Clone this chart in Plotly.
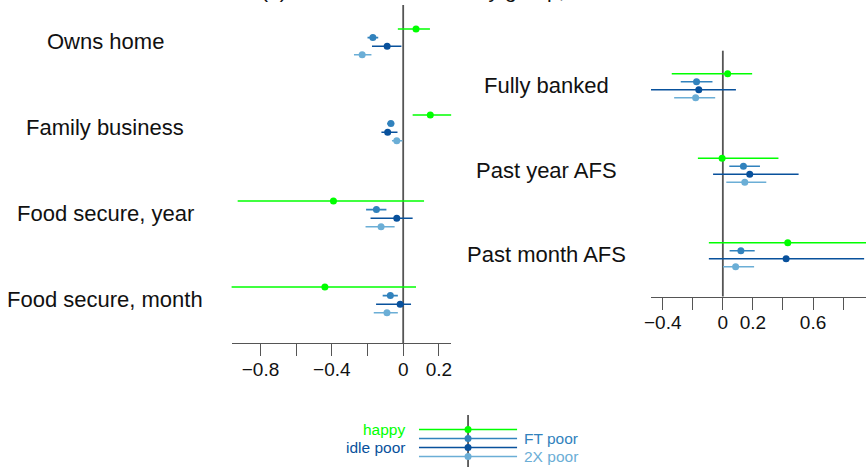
import plotly.graph_objects as go

W, H = 867, 468
FONT = "Liberation Sans, Arial, sans-serif"

# group order (top to bottom inside each outcome block)
groups = ["happy", "FT poor", "idle poor", "2X poor"]
colors = ["#00ff00", "#3182bd", "#08519c", "#6baed6"]

# ---- left panel: outcomes ----
left_rows = ["Owns home", "Family business", "Food secure, year", "Food secure, month"]
happy_est_l = [0.072, 0.152, -0.391, -0.439]
happy_lo_l = [-0.030, 0.053, -0.928, -0.970]
happy_hi_l = [0.150, 0.274, 0.117, 0.072]
ft_est_l = [-0.170, -0.069, -0.150, -0.072]
ft_lo_l = [-0.200, -0.090, -0.208, -0.115]
ft_hi_l = [-0.140, -0.050, -0.094, -0.030]
idle_est_l = [-0.090, -0.087, -0.036, -0.017]
idle_lo_l = [-0.175, -0.122, -0.183, -0.152]
idle_hi_l = [-0.010, -0.032, 0.053, 0.044]
twox_est_l = [-0.230, -0.036, -0.124, -0.091]
twox_lo_l = [-0.276, -0.063, -0.211, -0.165]
twox_hi_l = [-0.178, -0.004, -0.048, -0.030]

# ---- right panel: banking outcomes ----
right_rows = ["Fully banked", "Past year AFS", "Past month AFS"]
happy_est_r = [0.032, -0.005, 0.432]
happy_lo_r = [-0.340, -0.166, -0.093]
happy_hi_r = [0.195, 0.370, 0.960]
ft_est_r = [-0.175, 0.137, 0.120]
ft_lo_r = [-0.280, 0.043, 0.045]
ft_hi_r = [-0.069, 0.247, 0.212]
idle_est_r = [-0.160, 0.179, 0.421]
idle_lo_r = [-0.490, -0.065, -0.093]
idle_hi_r = [0.087, 0.504, 0.940]
twox_est_r = [-0.181, 0.146, 0.085]
twox_lo_r = [-0.324, 0.023, 0.001]
twox_hi_r = [-0.051, 0.289, 0.208]

left_ticks = [-0.8, -0.6, -0.4, -0.2, 0.0, 0.2]
left_ticktext = ["\u22120.8", "", "\u22120.4", "", "0", "0.2"]
right_ticks = [-0.4, -0.2, 0.0, 0.2, 0.4, 0.6, 0.8]
right_ticktext = ["\u22120.4", "", "0", "0.2", "", "0.6", ""]

left_series = [
    (happy_est_l, happy_lo_l, happy_hi_l),
    (ft_est_l, ft_lo_l, ft_hi_l),
    (idle_est_l, idle_lo_l, idle_hi_l),
    (twox_est_l, twox_lo_l, twox_hi_l),
]
right_series = [
    (happy_est_r, happy_lo_r, happy_hi_r),
    (ft_est_r, ft_lo_r, ft_hi_r),
    (idle_est_r, idle_lo_r, idle_hi_r),
    (twox_est_r, twox_lo_r, twox_hi_r),
]

LEFT_STEP = 0.1     # vertical offset between groups within an outcome block
RIGHT_STEP = 0.095

fig = go.Figure()


def add_panel(series, offset, xa, ya):
    for k, (est, lo, hi) in enumerate(series):
        ys = [-(i + k * offset) for i in range(len(est))]
        fig.add_trace(go.Scatter(
            x=est, y=ys, mode="markers", xaxis=xa, yaxis=ya,
            marker=dict(size=7, color=colors[k]),
            error_x=dict(type="data", symmetric=False,
                         array=[h - e for e, h in zip(est, hi)],
                         arrayminus=[e - l for e, l in zip(est, lo)],
                         color=colors[k], thickness=1.6, width=0),
            showlegend=False, hoverinfo="skip", cliponaxis=True,
        ))


add_panel(left_series, LEFT_STEP, "x", "y")
add_panel(right_series, RIGHT_STEP, "x2", "y2")

# key: each group drawn as a point with a unit interval around zero
for k, g in enumerate(groups):
    fig.add_trace(go.Scatter(
        x=[0], y=[-k], mode="markers", xaxis="x3", yaxis="y3",
        marker=dict(size=7, color=colors[k]),
        error_x=dict(type="data", array=[1], color=colors[k], thickness=1.6, width=0),
        showlegend=False, hoverinfo="skip",
    ))

axis_common = dict(showgrid=False, zeroline=False, showline=True, linecolor="#555555",
                   linewidth=1.3, ticks="outside", ticklen=12, tickcolor="#555555",
                   tickwidth=1.3, tickfont=dict(family=FONT, size=19, color="#111111"),
                   ticklabelstandoff=-3, fixedrange=True)
hidden_y = dict(visible=False, showgrid=False, zeroline=False, fixedrange=True)

fig.update_layout(
    width=W, height=H,
    margin=dict(l=0, r=0, t=0, b=0),
    paper_bgcolor="white", plot_bgcolor="white",
    xaxis=dict(domain=[226.7 / W, 448.3 / W], range=[-0.962, 0.269],
               tickvals=left_ticks, ticktext=left_ticktext, anchor="y", **axis_common),
    yaxis=dict(domain=[1 - 343 / H, 1 - 5 / H], range=[-3.651, 0.279], anchor="x", **hidden_y),
    xaxis2=dict(domain=[650 / W, 1.0], range=[-0.478, 0.9525],
                tickvals=right_ticks, ticktext=right_ticktext, anchor="y2", **axis_common),
    yaxis2=dict(domain=[1 - 296.5 / H, 1 - 50.7 / H], range=[-2.637, 0.272], anchor="x2", **hidden_y),
    xaxis3=dict(domain=[415.7 / W, 515 / W], range=[-1, 1], visible=False, fixedrange=True, anchor="y3"),
    yaxis3=dict(domain=[1 - 467 / H, 1 - 415 / H], range=[-4.167, 1.611], anchor="x3", **hidden_y),
)

# zero reference lines
for xr, yr in [("x", "y domain"), ("x2", "y2 domain"), ("x3", "y3 domain")]:
    fig.add_shape(type="line", xref=xr, yref=yr, x0=0, x1=0, y0=0, y1=1,
                  line=dict(color="#555555", width=1.8), layer="below")

annotations = []
for i, name in enumerate(left_rows):
    annotations.append(dict(text=name, xref="paper", yref="y", x=99 / W, y=-(i + 1.5 * LEFT_STEP),
                            xanchor="center", yanchor="middle", showarrow=False,
                            font=dict(family=FONT, size=22, color="#111111")))
for i, name in enumerate(right_rows):
    annotations.append(dict(text=name, xref="paper", yref="y2", x=544.5 / W, y=-(i + 1.5 * RIGHT_STEP),
                            xanchor="center", yanchor="middle", showarrow=False,
                            font=dict(family=FONT, size=22, color="#111111")))

# key labels: left side for happy / idle poor, right side for FT poor / 2X poor
key_side = ["left", "right", "left", "right"]
for k, g in enumerate(groups):
    if key_side[k] == "left":
        annotations.append(dict(text=g, xref="paper", yref="y3", x=404 / W, y=-k,
                                xanchor="right", yanchor="middle", showarrow=False,
                                font=dict(family=FONT, size=15.5, color=colors[k])))
    else:
        annotations.append(dict(text=g, xref="paper", yref="y3", x=520 / W, y=-k,
                                xanchor="left", yanchor="middle", showarrow=False,
                                font=dict(family=FONT, size=15.5, color=colors[k])))

# panel title, sitting at the very top edge of the page
annotations.append(dict(text="(a) Selected outcomes by group, all", xref="paper", yref="paper",
                        x=423 / W, y=1 - 4 / H, xanchor="center", yanchor="bottom",
                        showarrow=False, font=dict(family=FONT, size=21, color="#111111")))

fig.update_layout(annotations=annotations)

fig.write_html("out.html")
